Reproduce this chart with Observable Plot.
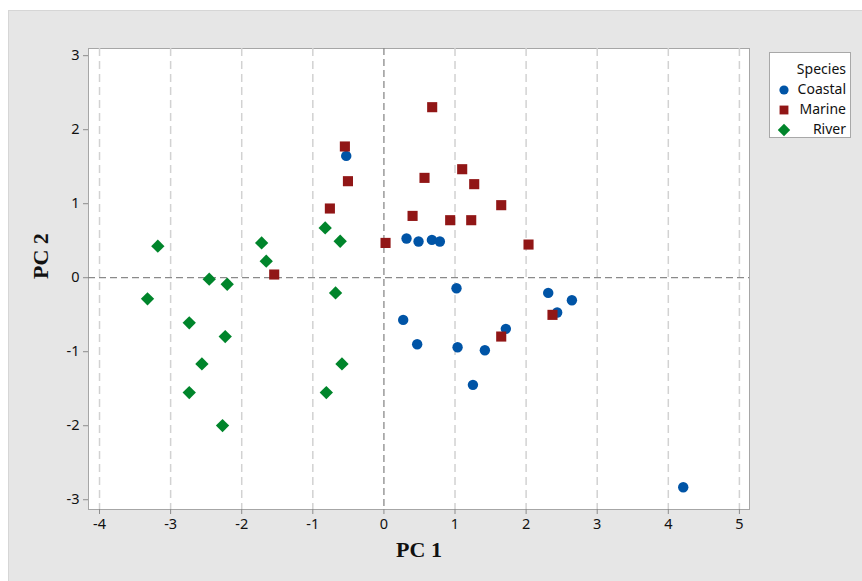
<!DOCTYPE html>
<html>
<head>
<meta charset="utf-8">
<script src="https://cdn.jsdelivr.net/npm/d3@7"></script>
<script src="https://cdn.jsdelivr.net/npm/@observablehq/plot@0.6"></script>
<style>
  html, body { margin: 0; padding: 0; background: #ffffff; }
  #page { position: relative; width: 862px; height: 581px; overflow: hidden; }
  #bg { position: absolute; left: 8px; top: 10px; right: 0; bottom: 0; background: #e6e6e6; border-left: 1px solid #d6d6d6; border-top: 1px solid #d6d6d6; }
  #chart { position: absolute; left: 0; top: 0; }
  #legend { position: absolute; left: 769px; top: 52px; width: 80px; height: 84px; background: #fff; border: 1px solid #a8a8a8; font-family: "Noto Sans", "Open Sans", sans-serif; font-size: 14px; color: #111; }
  #legend .row { position: absolute; left: 0; right: 4px; height: 20px; line-height: 20px; text-align: right; }
  #legend svg { position: absolute; left: 6px; top: 3px; }
</style>
</head>
<body>
<div id="page">
  <div id="bg"></div>
  <div id="chart"></div>
  <div id="legend"></div>
</div>
<script>
const species = ["Coastal", "Marine", "River"];
const colors = ["#0054a6", "#911616", "#00852b"];
const symbols = ["circle", "square", "diamond2"];

const coastalPC1 = [-0.53, 0.318, 0.487, 0.675, 0.787, 1.021, 2.311, 2.644, 2.437, 0.271, 1.715, 0.468, 1.036, 1.42, 1.252, 4.21];
const coastalPC2 = [1.646, 0.53, 0.489, 0.511, 0.489, -0.142, -0.205, -0.304, -0.47, -0.57, -0.691, -0.899, -0.939, -0.98, -1.448, -2.831];

const marinePC1 = [-0.549, -0.506, -0.76, 0.023, -1.543, 0.679, 1.101, 0.571, 1.27, 1.65, 0.403, 0.932, 1.228, 2.034, 2.371, 1.65];
const marinePC2 = [1.773, 1.304, 0.935, 0.47, 0.043, 2.304, 1.466, 1.349, 1.264, 0.98, 0.835, 0.777, 0.777, 0.448, -0.502, -0.795];

const riverPC1 = [-3.18, -0.826, -0.615, -1.72, -1.655, -2.457, -2.204, -3.325, -0.68, -2.738, -2.232, -2.56, -0.59, -2.738, -0.81, -2.27];
const riverPC2 = [0.426, 0.673, 0.493, 0.47, 0.223, -0.02, -0.088, -0.286, -0.205, -0.61, -0.795, -1.165, -1.165, -1.552, -1.552, -1.998];

const xTicks = [-4, -3, -2, -1, 0, 1, 2, 3, 4, 5];
const yTicks = [-3, -2, -1, 0, 1, 2, 3];

const series = [
  {name: "Coastal", x: coastalPC1, y: coastalPC2},
  {name: "Marine", x: marinePC1, y: marinePC2},
  {name: "River", x: riverPC1, y: riverPC2}
];
const data = series.flatMap(s => s.x.map((v, i) => ({species: s.name, pc1: v, pc2: s.y[i]})));

const sizeR = {Coastal: 5.2, Marine: 5.7, River: 6.0};

const tickFont = {fontFamily: "'Noto Sans', 'Open Sans', sans-serif", fontSize: 14.5, fill: "#111"};
const fmt = d => String(d);

const plot = Plot.plot({
  width: 862,
  height: 581,
  marginLeft: 88,
  marginRight: 113,
  marginTop: 48,
  marginBottom: 72,
  style: {background: "transparent", color: "#111"},
  x: {domain: [-4.155, 5.142], ticks: xTicks},
  y: {domain: [-3.132, 3.097], ticks: yTicks},
  marks: [
    Plot.frame({fill: "white", stroke: "#a6a6a6"}),
    Plot.ruleX(xTicks.filter(d => d !== 0), {stroke: "#d2d2d2", strokeWidth: 1.5, strokeDasharray: "8,5"}),
    Plot.ruleX([0], {stroke: "#8a8a8a", strokeWidth: 1.3, strokeDasharray: "7,4"}),
    Plot.ruleY([0], {stroke: "#8a8a8a", strokeWidth: 1.3, strokeDasharray: "7,4"}),
    ...species.map((s, i) => Plot.dot(data.filter(d => d.species === s), {
      x: "pc1", y: "pc2", r: sizeR[s], symbol: () => symbols[i], fill: colors[i], stroke: "none"
    })),
    Plot.axisX({ticks: xTicks, tickFormat: fmt, tickSize: 5, tickPadding: 4, stroke: "#8c8c8c", label: null, ...tickFont}),
    Plot.axisY({ticks: yTicks, tickFormat: fmt, tickSize: 5, tickPadding: 4, stroke: "#8c8c8c", label: null, ...tickFont}),
    Plot.text(["PC 1"], {frameAnchor: "bottom", dy: 47, text: d => d, fontFamily: "'Liberation Serif', serif", fontWeight: "bold", fontSize: 22, fill: "#111"}),
    Plot.text(["PC 2"], {frameAnchor: "left", dx: -48, rotate: -90, text: d => d, fontFamily: "'Liberation Serif', serif", fontWeight: "bold", fontSize: 22, fill: "#111"})
  ],
  symbol: {type: "identity"}
});
document.getElementById("chart").appendChild(plot);

// legend
const legend = document.getElementById("legend");
const title = document.createElement("div");
title.className = "row";
title.style.top = "6px";
title.textContent = "Species";
legend.appendChild(title);
species.forEach((s, i) => {
  const row = document.createElement("div");
  row.className = "row";
  row.style.top = (26 + i * 20) + "px";
  const sym = d3.symbol().type([d3.symbolCircle, d3.symbolSquare, d3.symbolDiamond2][i]).size(Math.PI * [4.6, 5.0, 5.6][i] ** 2)();
  row.innerHTML = `<svg width="16" height="16" viewBox="-8 -8 16 16"><path d="${sym}" fill="${colors[i]}"/></svg>${s}`;
  legend.appendChild(row);
});
</script>
</body>
</html>
